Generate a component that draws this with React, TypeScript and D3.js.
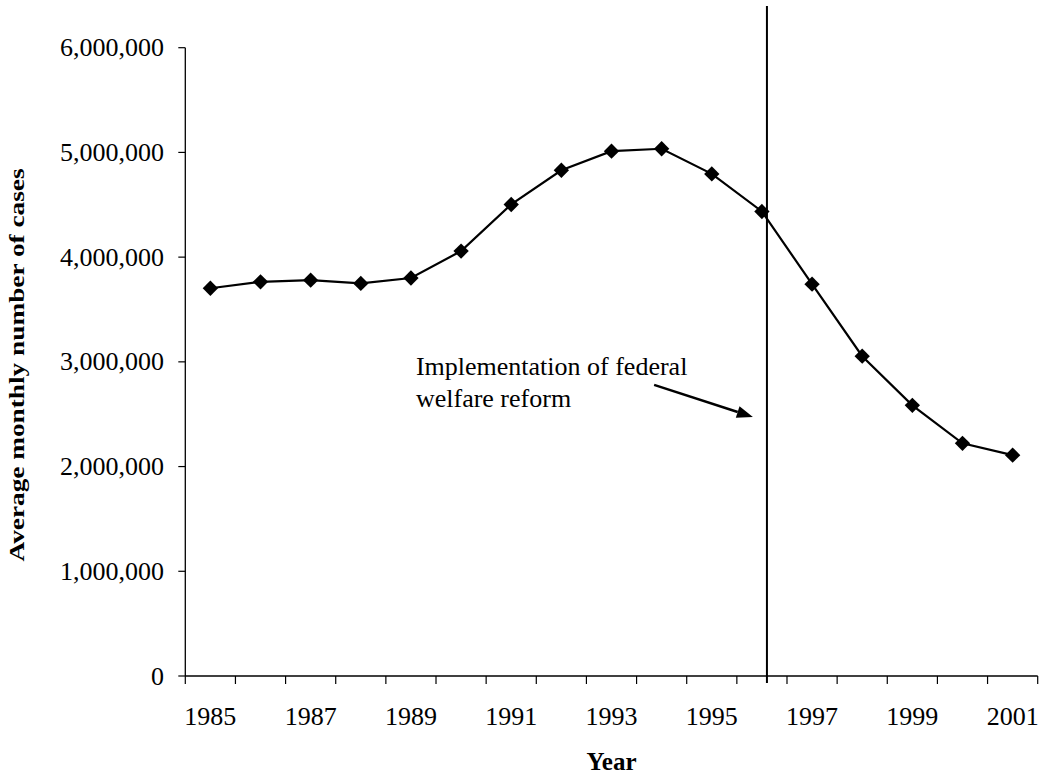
import React from "react";
import * as d3 from "d3";

const years = [1985, 1986, 1987, 1988, 1989, 1990, 1991, 1992, 1993, 1994, 1995, 1996, 1997, 1998, 1999, 2000, 2001];
const cases = [3703000, 3764000, 3780000, 3749000, 3801000, 4058000, 4503000, 4830000, 5012000, 5035000, 4795000, 4436000, 3742000, 3054000, 2585000, 2222000, 2109000];
const yTicks = [0, 1000000, 2000000, 3000000, 4000000, 5000000, 6000000];
const xLabelYears = [1985, 1987, 1989, 1991, 1993, 1995, 1997, 1999, 2001];
const reformYear = 1996.1;
const annotationLines = ["Implementation of federal", "welfare reform"];
const annotationPos = { year: 1989.1, value: 2875000 };
const arrowFrom = { year: 1993.85, value: 2780000 };
const arrowTo = { year: 1995.82, value: 2474000 };

const W = 1041;
const H = 776;
const left = 185.3;
const right = 1037.7;
const top = 47.7;
const bottom = 676;
const font = "'Liberation Serif', 'Times New Roman', Times, serif";

export default function App() {
  const x = d3.scaleBand<number>().domain(years).range([left, right]).padding(0);
  const xLin = d3.scaleLinear().domain([years[0] - 0.5, years[years.length - 1] + 0.5]).range([left, right]);
  const y = d3.scaleLinear().domain([0, 6000000]).range([bottom, top]);
  const cx = (yr: number) => (x(yr) as number) + x.bandwidth() / 2;
  const fmt = d3.format(",");
  const line = d3.line<number>().x((_, i) => cx(years[i])).y((d) => y(d));
  const diamond = d3.symbol().type(d3.symbolDiamond2).size(150)();

  const tickXs = d3.range(years.length + 1).map((i) => left + i * x.bandwidth());
  const rx = xLin(reformYear);
  const ax1 = xLin(arrowFrom.year), ay1 = y(arrowFrom.value);
  const ax2 = xLin(arrowTo.year), ay2 = y(arrowTo.value);
  const ang = Math.atan2(ay2 - ay1, ax2 - ax1);
  const hl = 16, hw = 6;
  const bx = ax2 - hl * Math.cos(ang), by = ay2 - hl * Math.sin(ang);
  const head = `M${ax2},${ay2}L${bx + hw * Math.sin(ang)},${by - hw * Math.cos(ang)}L${bx - hw * Math.sin(ang)},${by + hw * Math.cos(ang)}Z`;

  return (
    <svg width={W} height={H} style={{ position: "absolute", left: 0, top: 0, background: "#fff" }} fontFamily={font}>
      <rect width={W} height={H} fill="#fff" />
      {/* y axis */}
      <line x1={left} x2={left} y1={top} y2={bottom} stroke="#000" strokeWidth={1.3} />
      {yTicks.map((t) => (
        <g key={t}>
          <line x1={left - 7} x2={left} y1={y(t)} y2={y(t)} stroke="#000" strokeWidth={1.2} />
          <text x={164} y={y(t)} dy="0.33em" textAnchor="end" fontSize={26} fill="#000">
            {fmt(t)}
          </text>
        </g>
      ))}
      {/* x axis */}
      <line x1={left} x2={right} y1={bottom} y2={bottom} stroke="#000" strokeWidth={1.3} />
      {tickXs.map((tx, i) => (
        <line key={i} x1={tx} x2={tx} y1={bottom} y2={bottom + 8} stroke="#000" strokeWidth={1.2} />
      ))}
      {xLabelYears.map((yr) => (
        <text key={yr} x={cx(yr)} y={725} textAnchor="middle" fontSize={26} fill="#000">
          {yr}
        </text>
      ))}
      <text x={(left + right) / 2} y={770} textAnchor="middle" fontSize={25} fontWeight="bold" fill="#000">
        Year
      </text>
      <text
        transform={`translate(24,${365}) rotate(-90) scale(1.3,1)`}
        textAnchor="middle"
        fontSize={21}
        fontWeight="bold"
        fill="#000"
      >
        Average monthly number of cases
      </text>
      {/* reform line */}
      <line x1={rx} x2={rx} y1={6} y2={bottom + 7} stroke="#000" strokeWidth={2} />
      {/* series */}
      <path d={line(cases) || ""} fill="none" stroke="#000" strokeWidth={2.2} />
      {cases.map((v, i) => (
        <path key={i} d={diamond || ""} transform={`translate(${cx(years[i])},${y(v)})`} fill="#000" />
      ))}
      {/* annotation */}
      {annotationLines.map((t, i) => (
        <text key={i} x={xLin(annotationPos.year)} y={y(annotationPos.value) + i * 32} fontSize={26} fill="#000">
          {t}
        </text>
      ))}
      <line x1={ax1} y1={ay1} x2={bx} y2={by} stroke="#000" strokeWidth={2.5} />
      <path d={head} fill="#000" />
    </svg>
  );
}
